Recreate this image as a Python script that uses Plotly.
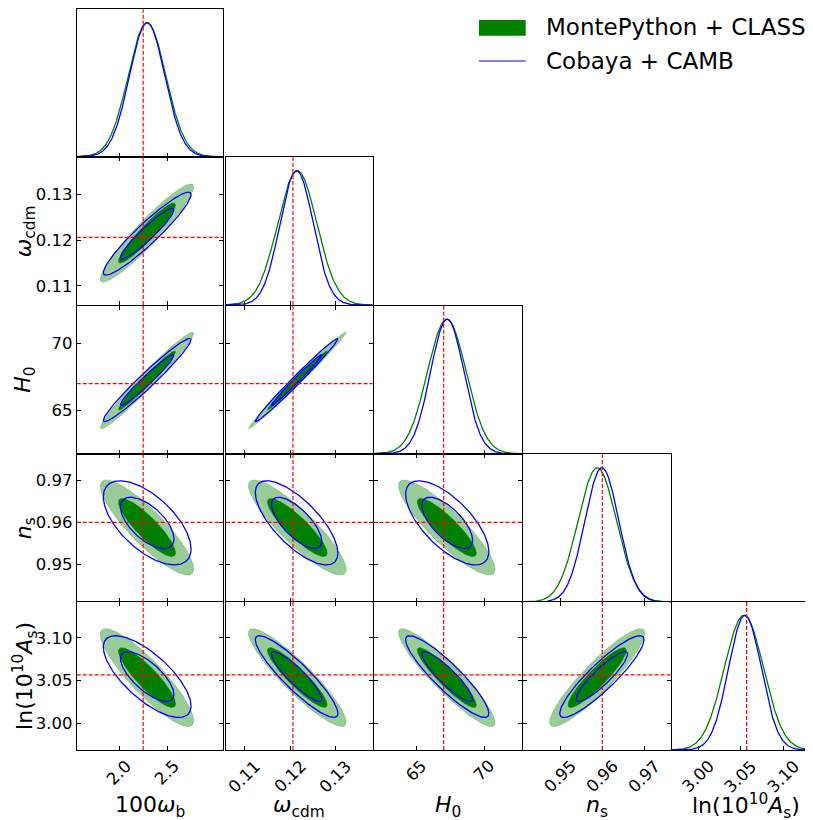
import numpy as np
import plotly.graph_objects as go

# ---------------- data ----------------
param_labels = ["100<i>ω</i><sub>b</sub>", "<i>ω</i><sub>cdm</sub>", "<i>H</i><sub>0</sub>",
                "<i>n</i><sub>s</sub>", "ln(10<sup>10</sup><i>A</i><sub>s</sub>)"]
axis_ranges = [[1.553, 3.087], [0.1058, 0.1381], [61.8, 72.77], [0.9411, 0.9762], [2.969, 3.142]]
tick_values = [[2.0, 2.5], [0.11, 0.12, 0.13], [65, 70], [0.95, 0.96, 0.97], [3.00, 3.05, 3.10]]
tick_labels = [["2.0", "2.5"], ["0.11", "0.12", "0.13"], ["65", "70"],
               ["0.95", "0.96", "0.97"], ["3.00", "3.05", "3.10"]]
fiducial = [2.25, 0.1206, 67.0, 0.960, 3.0567]

# MontePython + CLASS (green)
mp_mean = [2.290, 0.12155, 67.23, 0.9588, 3.0535]
mp_sigma = [0.197, 0.00432, 1.44, 0.00455, 0.0230]
# Cobaya + CAMB (blue)
cb_mean = [2.292, 0.1214, 67.26, 0.9599, 3.0547]
cb_sigma = [0.185, 0.00365, 1.24, 0.00402, 0.0192]
# pair correlations, order (1,0),(2,0),(2,1),(3,0),(3,1),(3,2),(4,0),(4,1),(4,2),(4,3)
pair_index = [(1, 0), (2, 0), (2, 1), (3, 0), (3, 1), (3, 2), (4, 0), (4, 1), (4, 2), (4, 3)]
mp_corr = [0.94, 0.975, 0.993, -0.87, -0.88, -0.88, -0.88, -0.91, -0.92, 0.91]
cb_corr = [0.94, 0.97, 0.99, -0.62, -0.72, -0.68, -0.72, -0.90, -0.90, 0.90]

legend_names = ["MontePython + CLASS", "Cobaya + CAMB"]

# ---------------- layout geometry (page pixels) ----------------
PAGE_W, PAGE_H = 813, 820
OFF = 8                      # default body margin of the html page
W, H = PAGE_W - OFF, PAGE_H - OFF
col_px = [(76.7, 223.0), (225.6, 372.6), (373.5, 521.6), (522.6, 670.6), (671.6, 819.6)]
row_px = [(9.3, 156.7), (157.3, 305.0), (305.7, 453.7), (454.3, 602.0), (601.8, 750.0)]


def px(x):
    return (x - OFF) / W


def py(y):
    return 1 - (y - OFF) / H


GREEN = "#008000"
GREEN_LIGHT = "rgba(0,128,0,0.40)"
BLUE = "#0000ff"
RED = "#ff0000"
FONT = "DejaVu Sans"

K1 = np.sqrt(2.30)
K2 = np.sqrt(6.18)

mp_c = {p: v for p, v in zip(pair_index, mp_corr)}
cb_c = {p: v for p, v in zip(pair_index, cb_corr)}


def ellipse(mx, my, sx, sy, rho, k):
    t = np.linspace(0, 2 * np.pi, 241)
    cov = np.array([[sx * sx, rho * sx * sy], [rho * sx * sy, sy * sy]])
    L = np.linalg.cholesky(cov)
    pts = L @ np.vstack([np.cos(t), np.sin(t)]) * k
    return mx + pts[0], my + pts[1]


fig = go.Figure()
layout = {}
shapes = []
annotations = []
bottom_axis = {}

n = 0
for r in range(5):
    for c in range(r + 1):
        n += 1
        xs = "" if n == 1 else str(n)
        xa, ya = "x" + xs, "y" + xs
        x0, x1 = col_px[c]
        y0, y1 = row_px[r]
        xr = list(axis_ranges[c])
        if x1 > PAGE_W:
            xr[1] = xr[0] + (xr[1] - xr[0]) * (PAGE_W - x0) / (x1 - x0)
            x1 = PAGE_W
        diag = (r == c)
        layout["xaxis" + xs] = dict(
            domain=[px(x0), px(x1)], range=xr, anchor=ya,
            showline=True, linecolor="black", linewidth=1,
            mirror=True if diag else "ticks",
            ticks="inside", ticklen=4, tickwidth=1, tickcolor="black",
            tickvals=tick_values[c], showticklabels=False,
            showgrid=False, zeroline=False, fixedrange=True)
        yax = dict(
            domain=[py(y1), py(y0)], anchor=xa,
            showline=True, linecolor="black", linewidth=1,
            showgrid=False, zeroline=False, fixedrange=True)
        if diag:
            yax.update(range=[0, 1.1], ticks="", showticklabels=False,
                       mirror=(c < 4))
        else:
            yax.update(range=axis_ranges[r], mirror="ticks", ticks="inside",
                       ticklen=4, tickwidth=1, tickcolor="black",
                       tickvals=tick_values[r], ticktext=tick_labels[r],
                       showticklabels=(c == 0),
                       tickfont=dict(family=FONT, size=16.5, color="black"))
        layout["yaxis" + xs] = yax
        if r == 4:
            bottom_axis[c] = (xa, ya)

        if diag:
            xg = np.linspace(axis_ranges[c][0], axis_ranges[c][1], 400)
            for mean, sig, col in ((mp_mean, mp_sigma, GREEN), (cb_mean, cb_sigma, BLUE)):
                yg = np.exp(-0.5 * ((xg - mean[c]) / sig[c]) ** 2)
                fig.add_trace(go.Scatter(x=xg, y=yg, mode="lines", xaxis=xa, yaxis=ya,
                                         line=dict(color=col, width=1.3),
                                         hoverinfo="skip", showlegend=False))
            shapes.append(dict(type="line", xref=xa, yref=ya + " domain",
                               x0=fiducial[c], x1=fiducial[c], y0=0, y1=1,
                               line=dict(color=RED, width=1.2, dash="4px,2px")))
        else:
            for k, fc in ((K2, GREEN_LIGHT), (K1, GREEN)):
                ex, ey = ellipse(mp_mean[c], mp_mean[r], mp_sigma[c], mp_sigma[r], mp_c[(r, c)], k)
                fig.add_trace(go.Scatter(x=ex, y=ey, mode="lines", fill="toself",
                                         fillcolor=fc, xaxis=xa, yaxis=ya,
                                         line=dict(color=fc, width=0.6),
                                         hoverinfo="skip", showlegend=False))
            for k in (K2, K1):
                ex, ey = ellipse(cb_mean[c], cb_mean[r], cb_sigma[c], cb_sigma[r], cb_c[(r, c)], k)
                fig.add_trace(go.Scatter(x=ex, y=ey, mode="lines", xaxis=xa, yaxis=ya,
                                         line=dict(color=BLUE, width=1.3),
                                         hoverinfo="skip", showlegend=False))
            shapes.append(dict(type="line", xref=xa, yref=ya + " domain",
                               x0=fiducial[c], x1=fiducial[c], y0=0, y1=1,
                               line=dict(color=RED, width=1.2, dash="4px,2px")))
            shapes.append(dict(type="line", xref=xa + " domain", yref=ya,
                               x0=0, x1=1, y0=fiducial[r], y1=fiducial[r],
                               line=dict(color=RED, width=1.2, dash="4px,2px")))

# x tick labels (rotated, centred under ticks) and axis titles
for c in range(5):
    xa, ya = bottom_axis[c]
    for v, t in zip(tick_values[c], tick_labels[c]):
        annotations.append(dict(x=v, xref=xa, y=py(754), yref="paper", text=t,
                                textangle=-45, xanchor="center", yanchor="top",
                                showarrow=False,
                                font=dict(family=FONT, size=16.5, color="black")))
    cx = (col_px[c][0] + col_px[c][1]) / 2
    annotations.append(dict(x=px(cx), xref="paper", y=py(806), yref="paper",
                            text=param_labels[c], showarrow=False,
                            xanchor="center", yanchor="middle",
                            font=dict(family=FONT, size=22, color="black")))
for r in range(1, 5):
    cy = (row_px[r][0] + row_px[r][1]) / 2
    annotations.append(dict(x=px(25), xref="paper", y=py(cy), yref="paper",
                            text=param_labels[r], showarrow=False, textangle=-90,
                            xanchor="center", yanchor="middle",
                            font=dict(family=FONT, size=22, color="black")))

# legend (drawn by hand)
shapes.append(dict(type="rect", xref="paper", yref="paper",
                   x0=px(479), x1=px(525.7), y0=py(35.7), y1=py(20),
                   fillcolor=GREEN, line=dict(width=0)))
shapes.append(dict(type="line", xref="paper", yref="paper",
                   x0=px(479), x1=px(525.7), y0=py(61), y1=py(61),
                   line=dict(color=BLUE, width=1)))
for name, yc in zip(legend_names, (27.5, 60.5)):
    annotations.append(dict(x=px(544), xref="paper", y=py(yc), yref="paper",
                            text=name, showarrow=False, xanchor="left", yanchor="middle",
                            font=dict(family=FONT, size=23, color="black")))

fig.update_layout(**layout)
fig.update_layout(width=W, height=H, margin=dict(l=0, r=0, t=0, b=0),
                  paper_bgcolor="white", plot_bgcolor="white", showlegend=False,
                  font=dict(family=FONT, color="black"),
                  shapes=shapes, annotations=annotations)
fig.write_html("out.html")
